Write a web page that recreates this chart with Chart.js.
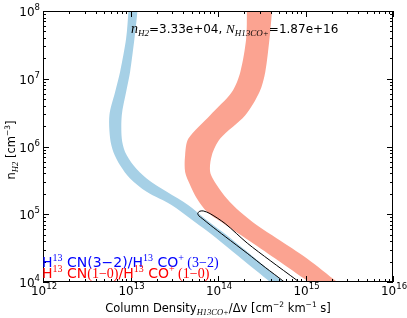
<!DOCTYPE html>
<html>
<head>
<meta charset="utf-8">
<script src="https://cdn.jsdelivr.net/npm/chart.js@4.4.0/dist/chart.umd.min.js"></script>
<style>
  html, body { margin: 0; padding: 0; background: #fff; }
  #wrap { width: 407px; height: 318px; }
</style>
</head>
<body>
<div id="wrap"><canvas id="chart" width="407" height="318"></canvas></div>
<script>
// axis ticks
const xTicks = [1e12, 1e13, 1e14, 1e15, 1e16];
const yTicks = [1e4, 1e5, 1e6, 1e7, 1e8];

// H13CN(3-2)/H13CO+(3-2) band: left and right edges at each density
const blueY = [1.2e8, 1.0e8, 3.92e7, 1.26e7, 6.38e6, 2.90e6, 1.31e6, 8.32e5, 5.30e5, 3.37e5, 2.14e5, 1.36e5, 8.67e4, 5.50e4, 2.23e4, 1.0e4, 7.6e3];
const blueLeft = [9.47e12, 9.47e12, 8.91e12, 7.60e12, 6.67e12, 5.74e12, 5.85e12, 6.37e12, 7.60e12, 9.89e12, 1.53e13, 2.97e13, 4.81e13, 7.72e13, 1.84e14, 3.95e14, 5.08e14];
const blueRight = [1.20e13, 1.20e13, 1.11e13, 9.89e12, 8.91e12, 7.95e12, 7.95e12, 8.67e12, 1.08e13, 1.53e13, 2.60e13, 4.59e13, 7.05e13, 1.12e14, 2.67e14, 5.61e14, 7.06e14];

// H13CN(1-0)/H13CO+(1-0) band
const redY = [1.2e8, 1.0e8, 3.92e7, 1.26e7, 6.38e6, 2.90e6, 1.31e6, 7.45e5, 4.22e5, 2.69e5, 1.71e5, 1.08e5, 6.90e4, 4.40e4, 2.23e4, 1.0e4, 7.6e3];
const redLeft = [2.14e14, 2.14e14, 2.10e14, 1.80e14, 1.44e14, 8.14e13, 4.59e13, 4.21e13, 4.21e13, 4.81e13, 5.74e13, 7.52e13, 1.24e14, 2.08e14, 4.51e14, 1.10e15, 1.52e15];
const redRight = [4.14e14, 4.14e14, 3.88e14, 3.47e14, 2.98e14, 2.05e14, 1.06e14, 8.51e13, 8.14e13, 9.71e13, 1.26e14, 1.80e14, 2.79e14, 4.72e14, 1.04e15, 2.31e15, 3.09e15];

// overlap ellipse outline
const ellX = [5.86e13, 6.10e13, 6.77e13, 8.14e13, 1.21e14, 2.16e14, 3.95e14, 8.05e14, 1.20e15, 8.73e14, 6.70e14, 5.57e14, 3.47e14, 2.16e14, 1.21e14, 8.14e13, 6.59e13, 6.01e13, 5.86e13];
const ellY = [1.02e5, 1.10e5, 1.12e5, 1.02e5, 7.26e4, 3.75e4, 2.07e4, 1.05e4, 7.10e3, 6.41e3, 8.41e3, 1.03e4, 1.64e4, 2.65e4, 4.68e4, 6.95e4, 8.67e4, 9.53e4, 1.02e5];

const SANS = "'DejaVu Sans'";
const SERIF = "'Liberation Serif'";

// closed shape: left edge downwards, right edge back up
const band = (Y, L, R) =>
  L.map((x, i) => ({ x, y: Y[i] })).concat(R.map((x, i) => ({ x, y: Y[i] })).reverse());

// draw runs of text with different fonts / offsets on one line
const rich = (ctx, runs, x, y, align) => {
  let w = 0;
  runs.forEach(r => { ctx.font = r[1]; w += ctx.measureText(r[0]).width; });
  let cx = align === 'center' ? x - w / 2 : align === 'right' ? x - w : x;
  runs.forEach(r => {
    ctx.font = r[1];
    ctx.fillText(r[0], cx, y + (r[2] || 0));
    cx += ctx.measureText(r[0]).width;
  });
};

const frame = {
  id: 'frame',
  afterDatasetsDraw(chart) {
    const { ctx, chartArea: a, scales: { x, y } } = chart;
    ctx.save();
    ctx.strokeStyle = '#000';
    ctx.lineWidth = 1;

    // ticks on all four sides, pointing in
    const tick = (v, len, axis) => {
      ctx.beginPath();
      if (axis === 'x') {
        const px = Math.round(x.getPixelForValue(v)) + 0.5;
        ctx.moveTo(px, a.bottom); ctx.lineTo(px, a.bottom - len);
        ctx.moveTo(px, a.top); ctx.lineTo(px, a.top + len);
      } else {
        const py = Math.round(y.getPixelForValue(v)) + 0.5;
        ctx.moveTo(a.left, py); ctx.lineTo(a.left + len, py);
        ctx.moveTo(a.right, py); ctx.lineTo(a.right - len, py);
      }
      ctx.stroke();
    };
    xTicks.forEach((v, i) => {
      tick(v, 6, 'x');
      if (i < xTicks.length - 1) for (let m = 2; m < 10; m++) tick(v * m, 3, 'x');
    });
    yTicks.forEach((v, i) => {
      tick(v, 6, 'y');
      if (i < yTicks.length - 1) for (let m = 2; m < 10; m++) tick(v * m, 3, 'y');
    });

    ctx.strokeRect(Math.round(a.left) + 0.5, Math.round(a.top) + 0.5,
      Math.round(a.right - a.left) - 1, Math.round(a.bottom - a.top) - 1);

    // tick labels
    ctx.fillStyle = '#000';
    ctx.textBaseline = 'alphabetic';
    xTicks.forEach(v => {
      const e = Math.round(Math.log10(v));
      rich(ctx, [['10', `12px ${SANS}`], [String(e), `8.5px ${SANS}`, -6]],
        x.getPixelForValue(v) + 1, a.bottom + 13, 'center');
    });
    yTicks.forEach(v => {
      const e = Math.round(Math.log10(v));
      rich(ctx, [['10', `12px ${SANS}`], [String(e), `8.5px ${SANS}`, -6]],
        a.left - 3, y.getPixelForValue(v) + 5, 'right');
    });

    // axis titles
    rich(ctx, [
      ['Column Density', `11.5px ${SANS}`],
      ['H13CO+', `italic 8.5px ${SERIF}`, 3],
      ['/\u0394v [cm', `11.5px ${SANS}`],
      ['\u22122', `7.5px ${SANS}`, -5],
      [' km', `11.5px ${SANS}`],
      ['\u22121', `7.5px ${SANS}`, -5],
      [' s]', `11.5px ${SANS}`]
    ], (a.left + a.right) / 2, 312, 'center');

    ctx.save();
    ctx.translate(15, 150);
    ctx.rotate(-Math.PI / 2);
    rich(ctx, [
      ['n', `11.5px ${SANS}`],
      ['H2', `italic 8.5px ${SERIF}`, 3],
      [' [cm', `11.5px ${SANS}`],
      ['\u22123', `7.5px ${SANS}`, -5],
      [']', `11.5px ${SANS}`]
    ], 0, 0, 'center');
    ctx.restore();

    // annotation
    rich(ctx, [
      ['n', `italic 14px ${SERIF}`],
      ['H2', `italic 9px ${SERIF}`, 3],
      ['=3.33e+04, ', `12px ${SANS}`],
      ['N', `italic 13px ${SERIF}`],
      ['H13CO+', `italic 9px ${SERIF}`, 3],
      ['=1.87e+16', `12px ${SANS}`]
    ], 131, 33, 'left');

    // line labels
    ctx.fillStyle = '#0000ff';
    rich(ctx, [
      ['H', `14px ${SANS}`], ['13', `10px ${SERIF}`, -6],
      [' CN(3\u22122)/H', `14px ${SANS}`], ['13', `10px ${SERIF}`, -6],
      [' CO', `14px ${SANS}`], ['+', `10px ${SERIF}`, -6],
      [' (3\u22122)', `14px ${SERIF}`]
    ], 42, 266.5, 'left');
    ctx.fillStyle = '#ff0000';
    rich(ctx, [
      ['H', `14px ${SANS}`], ['13', `10px ${SERIF}`, -6],
      [' CN', `14px ${SANS}`], ['(1\u22120)', `14px ${SERIF}`],
      ['/H', `14px ${SANS}`], ['13', `10px ${SERIF}`, -6],
      [' CO', `14px ${SANS}`], ['+', `10px ${SERIF}`, -6],
      [' (1\u22120)', `14px ${SERIF}`]
    ], 42, 278, 'left');

    ctx.restore();
  }
};

new Chart(document.getElementById('chart').getContext('2d'), {
  type: 'line',
  data: {
    datasets: [
      {
        // ellipse on top (order 0 is drawn last)
        data: ellX.map((x, i) => ({ x, y: ellY[i] })),
        borderColor: '#000',
        borderWidth: 1,
        pointRadius: 0,
        tension: 0.3,
        fill: false,
        order: 0
      },
      {
        data: band(blueY, blueLeft, blueRight),
        backgroundColor: 'rgb(166, 208, 230)',
        borderWidth: 0,
        pointRadius: 0,
        tension: 0.3,
        fill: 'shape',
        order: 1
      },
      {
        data: band(redY, redLeft, redRight),
        backgroundColor: 'rgb(251, 163, 145)',
        borderWidth: 0,
        pointRadius: 0,
        tension: 0.3,
        fill: 'shape',
        order: 2
      }
    ]
  },
  options: {
    responsive: false,
    animation: false,
    layout: { padding: { left: 43, top: 11, right: 14, bottom: 36 } },
    scales: {
      x: { type: 'logarithmic', min: 1e12, max: 1e16, display: false },
      y: { type: 'logarithmic', min: 1e4, max: 1e8, display: false }
    },
    plugins: { legend: { display: false }, tooltip: { enabled: false } }
  },
  plugins: [frame]
});
</script>
</body>
</html>
